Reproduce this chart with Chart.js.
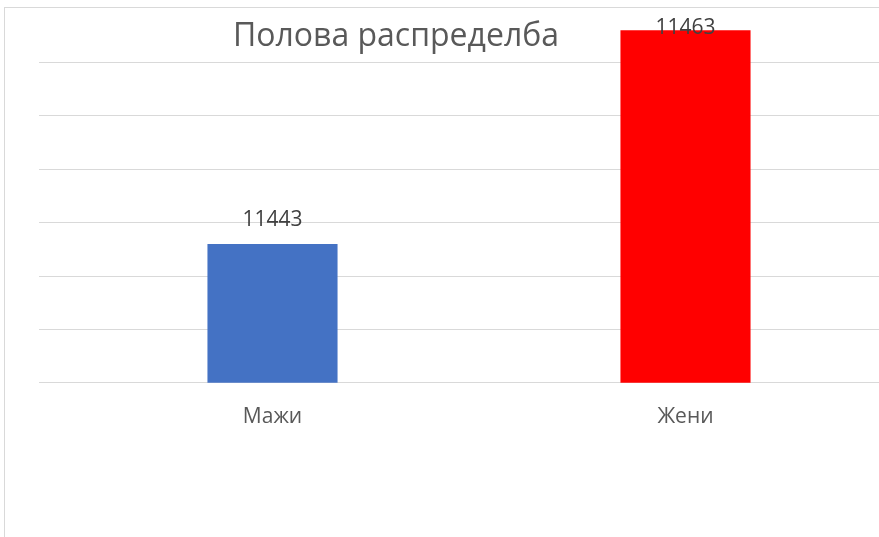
<!DOCTYPE html>
<html>
<head>
<meta charset="utf-8">
<script src="https://cdn.jsdelivr.net/npm/chart.js@4.4.0/dist/chart.umd.min.js"></script>
<style>
  html, body { margin: 0; padding: 0; background: #fff; overflow: hidden; }
  #wrap { position: absolute; left: 0; top: 0; width: 900px; height: 537px; }
  #frame { position: absolute; left: 4px; top: 7px; width: 1000px; height: 600px; border: 1px solid #d9d9d9; pointer-events: none; }
</style>
</head>
<body>
<div id="wrap"><canvas id="chart"></canvas></div>
<div id="frame"></div>
<script>
// chart data
const chartTitle = 'Полова распределба';
const categories = ['Мажи', 'Жени'];
const counts = [11443, 11463];
const barColors = ['#4472c4', '#ff0000'];
const yMin = 11430;
const yMax = 11465;
const yStep = 5;

// draws the title over the plot area (Excel style) and the value labels
const overlayText = {
  id: 'overlayText',
  afterDatasetsDraw(chart) {
    const ctx = chart.ctx;
    ctx.save();
    ctx.textAlign = 'center';
    ctx.textBaseline = 'middle';

    ctx.fillStyle = '#595959';
    ctx.font = '32px "Open Sans"';
    ctx.fillText(chartTitle, 396, 37);

    ctx.fillStyle = '#404040';
    ctx.font = '21px "Open Sans"';
    chart.getDatasetMeta(0).data.forEach((bar, i) => {
      const y = Math.max(bar.y - 24, 28);
      ctx.fillText(String(counts[i]), bar.x, y);
    });
    ctx.restore();
  }
};

const ctx = document.getElementById('chart');
new Chart(ctx, {
  type: 'bar',
  data: {
    labels: categories,
    datasets: [{
      data: counts,
      backgroundColor: barColors,
      borderWidth: 0,
      barPercentage: 0.315,
      categoryPercentage: 1
    }]
  },
  options: {
    responsive: true,
    maintainAspectRatio: false,
    animation: false,
    layout: { padding: { left: 39, right: 8, top: 9, bottom: 93 } },
    plugins: {
      legend: { display: false },
      title: { display: false },
      tooltip: { enabled: false }
    },
    scales: {
      x: {
        grid: { display: false },
        border: { display: false },
        ticks: { color: '#595959', font: { family: 'Open Sans', size: 21 }, padding: 14 }
      },
      y: {
        min: yMin,
        max: yMax,
        border: { display: false },
        grid: {
          color: (c) => c.tick && c.tick.value === yMax ? 'rgba(0,0,0,0)' : '#d9d9d9',
          lineWidth: 1,
          drawTicks: true,
          tickLength: 27
        },
        ticks: { stepSize: yStep, display: false }
      }
    }
  },
  plugins: [overlayText]
});
</script>
</body>
</html>
